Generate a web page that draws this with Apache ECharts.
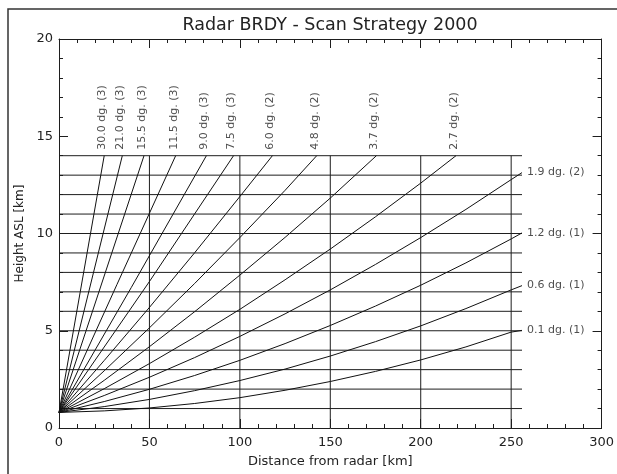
<!DOCTYPE html>
<html><head><meta charset="utf-8">
<script src="https://cdn.jsdelivr.net/npm/echarts@6/dist/echarts.min.js"></script>
<style>html,body{margin:0;padding:0;background:#fff}#c{width:617px;height:474px}</style>
</head><body><div id="c"></div>
<script>
// Beam centre height [km] versus distance from radar [km]
const beam01  = [[0,0.80],[25,0.88],[50,1.03],[75,1.26],[100,1.56],[125,1.94],[150,2.39],[175,2.91],[200,3.50],[225,4.17],[250,4.93],[256,5.02]];
const beam06  = [[0,0.80],[25,1.10],[50,1.47],[75,1.92],[100,2.44],[125,3.03],[150,3.70],[175,4.44],[200,5.25],[225,6.14],[250,7.10],[256,7.32]];
const beam12  = [[0,0.80],[25,1.36],[50,1.99],[75,2.70],[100,3.48],[125,4.34],[150,5.27],[175,6.27],[200,7.34],[225,8.49],[250,9.72],[256,10.03]];
const beam19  = [[0,0.80],[25,1.67],[50,2.61],[75,3.62],[100,4.71],[125,5.87],[150,7.10],[175,8.41],[200,9.79],[225,11.24],[250,12.77],[256,13.13]];
const beam27  = [[0,0.80],[25,2.02],[50,3.31],[75,4.67],[100,6.10],[125,7.62],[150,9.20],[175,10.86],[200,12.59],[219.5,14.0]];
const beam37  = [[0,0.80],[25,2.45],[50,4.18],[75,5.98],[100,7.86],[125,9.80],[150,11.82],[175.5,14.0]];
const beam48  = [[0,0.80],[25,2.94],[50,5.15],[75,7.43],[100,9.79],[125,12.22],[142.5,14.0]];
const beam60  = [[0,0.80],[25,3.47],[50,6.20],[75,9.01],[100,11.90],[118,14.0]];
const beam75  = [[0,0.80],[50,7.53],[96.5,14.0]];
const beam90  = [[0,0.80],[40,7.23],[81.5,14.0]];
const beam115 = [[0,0.80],[32,7.37],[64.5,14.0]];
const beam155 = [[0,0.80],[47,14.0]];
const beam210 = [[0,0.80],[35,14.0]];
const beam300 = [[0,0.80],[25,14.0]];

const elevations = ['0.1','0.6','1.2','1.9','2.7','3.7','4.8','6.0','7.5','9.0','11.5','15.5','21.0','30.0'];
const scanCounts = [1,1,1,2,2,2,2,2,3,3,3,3,3,3];
const beams = [beam01,beam06,beam12,beam19,beam27,beam37,beam48,beam60,beam75,beam90,beam115,beam155,beam210,beam300];

// Reference grid drawn inside the plot
const gridHeights = [1,2,3,4,5,6,7,8,9,10,11,12,13,14];
const gridDistances = [50,100,150,200,250];
const gridRangeEnd = 256;
const gridTop = 14;

const xTicks = [0,50,100,150,200,250,300];
const yTicks = [0,5,10,15,20];

const FONT = 'DejaVu Sans';
const INK = '#1e1e1e';

const axisBase = (pos, isX, showLabel) => ({
  type: 'value',
  position: pos,
  min: 0,
  max: isX ? xTicks[xTicks.length-1] : yTicks[yTicks.length-1],
  interval: isX ? xTicks[1]-xTicks[0] : yTicks[1]-yTicks[0],
  axisLine: {show: true, onZero: false, lineStyle: {color: INK, width: 1}},
  axisTick: {show: true, inside: true, length: 9, lineStyle: {color: INK, width: 1}},
  minorTick: {show: true, splitNumber: 5, length: 4, lineStyle: {color: INK, width: 1}},
  splitLine: {show: false},
  minorSplitLine: {show: false},
  axisLabel: {show: showLabel, color: '#222', fontFamily: FONT, fontSize: 13, margin: isX ? 8 : 6}
});

const series = [];
gridHeights.forEach(h => series.push({
  type: 'line', xAxisIndex: 0, yAxisIndex: 0, symbol: 'none', silent: true, z: 1,
  lineStyle: {color: INK, width: 1}, data: [[0, h], [gridRangeEnd, h]]
}));
gridDistances.forEach(d => series.push({
  type: 'line', xAxisIndex: 0, yAxisIndex: 0, symbol: 'none', silent: true, z: 1,
  lineStyle: {color: INK, width: 1}, data: [[d, 0], [d, gridTop]]
}));
beams.forEach((b, i) => series.push({
  type: 'line', name: elevations[i] + ' dg.', xAxisIndex: 0, yAxisIndex: 0,
  symbol: 'none', silent: true, z: 2, smooth: false,
  lineStyle: {color: '#111', width: 1}, data: b
}));

const labelText = i => elevations[i] + ' dg. (' + scanCounts[i] + ')';
const rightIdx = [0,1,2,3];
const topIdx = [4,5,6,7,8,9,10,11,12,13];

series.push({
  type: 'scatter', symbolSize: 0, silent: true, z: 3,
  data: rightIdx.map(i => ({value: beams[i][beams[i].length-1], name: labelText(i)})),
  label: {show: true, position: 'inside', align: 'left', verticalAlign: 'middle', offset: [5, 0],
          formatter: p => p.name, color: '#222', fontFamily: FONT, fontSize: 11}
});
series.push({
  type: 'scatter', symbolSize: 0, silent: true, z: 3,
  data: topIdx.map(i => ({value: beams[i][beams[i].length-1], name: labelText(i)})),
  label: {show: true, position: 'inside', align: 'left', verticalAlign: 'middle', rotate: 90, offset: [6, -2],
          formatter: p => p.name, color: '#222', fontFamily: FONT, fontSize: 11}
});

const chart = echarts.init(document.getElementById('c'), null, {renderer: 'canvas'});
chart.setOption({
  animation: false,
  backgroundColor: '#ffffff',
  grid: {left: 59, right: 15, top: 39, bottom: 46},
  xAxis: [
    Object.assign(axisBase('bottom', true, true), {
      name: 'Distance from radar [km]', nameLocation: 'middle', nameGap: 27,
      nameTextStyle: {color: '#222', fontFamily: FONT, fontSize: 13}
    }),
    axisBase('top', true, false)
  ],
  yAxis: [
    Object.assign(axisBase('left', false, true), {
      name: 'Height ASL [km]', nameLocation: 'middle', nameGap: 33, nameRotate: 90,
      nameTextStyle: {color: '#222', fontFamily: FONT, fontSize: 12}
    }),
    axisBase('right', false, false)
  ],
  graphic: [
    {type: 'rect', silent: true, z: 100, shape: {x: 8, y: 9, width: 640, height: 500},
     style: {fill: 'none', stroke: '#333', lineWidth: 1.5}},
    {type: 'text', silent: true, z: 100, x: 330, y: 25,
     style: {text: 'Radar BRDY - Scan Strategy 2000', fill: '#222', font: '17.5px "DejaVu Sans"',
             align: 'center', verticalAlign: 'middle', textAlign: 'center', textVerticalAlign: 'middle'}}
  ],
  series: series
});
</script>
</body></html>
